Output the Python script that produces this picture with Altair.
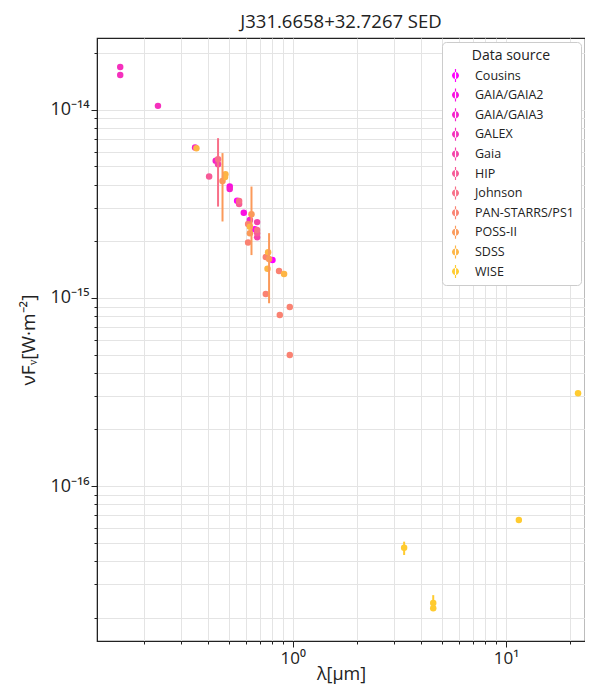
import altair as alt
import pandas as pd

# ---- data ----
sources = ["Cousins", "GAIA/GAIA2", "GAIA/GAIA3", "GALEX", "Gaia", "HIP",
           "Johnson", "PAN-STARRS/PS1", "POSS-II", "SDSS", "WISE"]
colors = ["#ff00ff", "#f90ee2", "#f61fcd", "#f530bd", "#f542aa", "#f75a98",
          "#f86f88", "#fa8272", "#fb9a5a", "#fdb545", "#ffcb30"]

wavelength = [0.155, 0.155, 0.233, 0.348, 0.353, 0.435, 0.446, 0.446, 0.405, 0.468,
              0.483, 0.481, 0.506, 0.506, 0.548, 0.560, 0.560, 0.589, 0.640, 0.629,
              0.680, 0.617, 0.629, 0.663, 0.680, 0.680, 0.680, 0.629, 0.617, 0.774,
              0.766, 0.747, 0.803, 0.761, 0.862, 0.910, 0.747, 0.968, 0.869, 0.968,
              21.8, 11.5, 3.33, 4.56, 4.56]
flux = [1.69e-14, 1.53e-14, 1.05e-14, 6.30e-15, 6.25e-15, 5.37e-15, 5.47e-15, 5.14e-15, 4.42e-15, 4.19e-15,
        4.55e-15, 4.39e-15, 3.91e-15, 3.80e-15, 3.29e-15, 3.28e-15, 3.16e-15, 2.84e-15, 2.79e-15, 2.60e-15,
        2.53e-15, 2.47e-15, 2.39e-15, 2.32e-15, 2.30e-15, 2.21e-15, 2.10e-15, 2.21e-15, 1.97e-15, 1.61e-15,
        1.75e-15, 1.65e-15, 1.59e-15, 1.43e-15, 1.39e-15, 1.34e-15, 1.05e-15, 8.96e-16, 8.12e-16, 4.97e-16,
        3.11e-16, 6.59e-17, 4.70e-17, 2.39e-17, 2.24e-17]
source = ["GALEX", "GALEX", "GALEX", "GAIA/GAIA3", "SDSS", "GAIA/GAIA3", "Johnson", "Gaia", "HIP", "POSS-II",
          "SDSS", "SDSS", "GAIA/GAIA2", "GAIA/GAIA3", "Cousins", "Johnson", "HIP", "GAIA/GAIA2", "POSS-II", "GAIA/GAIA3",
          "Gaia", "PAN-STARRS/PS1", "SDSS", "Cousins", "Johnson", "HIP", "Gaia", "POSS-II", "PAN-STARRS/PS1", "POSS-II",
          "SDSS", "PAN-STARRS/PS1", "Cousins", "SDSS", "PAN-STARRS/PS1", "SDSS", "PAN-STARRS/PS1", "PAN-STARRS/PS1",
          "PAN-STARRS/PS1", "PAN-STARRS/PS1",
          "WISE", "WISE", "WISE", "WISE", "WISE"]
flux_lo = [None, None, None, None, None, None, 3.06e-15, None, None, 2.55e-15,
           None, None, None, None, None, None, None, None, 1.69e-15, None,
           None, None, None, None, None, None, None, None, None, 9.37e-16,
           None, None, None, None, None, None, None, None, None, None,
           None, None, 4.30e-17, 2.19e-17, None]
flux_hi = [None, None, None, None, None, None, 7.07e-15, None, None, 5.89e-15,
           None, None, None, None, None, None, None, None, 3.91e-15, None,
           None, None, None, None, None, None, None, None, None, 2.21e-15,
           None, None, None, None, None, None, None, None, None, None,
           None, None, 5.06e-17, 2.63e-17, None]

x_ticks = [0.2, 0.3, 0.4, 0.5, 0.6, 0.7, 0.8, 0.9, 1, 2, 3, 4, 5, 6, 7, 8, 9, 10, 20]
y_ticks = [k * 10.0 ** e for e in (-17, -16, -15, -14) for k in range(1, 10)]
y_ticks = [v for v in y_ticks if 1.5e-17 <= v <= 2.4e-14]

df = pd.DataFrame({"wl": wavelength, "flux": flux, "source": source,
                   "lo": flux_lo, "hi": flux_hi})
df["order"] = df["source"].map({s: i for i, s in enumerate(sources)})
df = df.sort_values("order", kind="stable")
err = df.dropna(subset=["lo", "hi"])

FONT = "Open Sans"
E = "round(log(datum.value)/LN10)"
MAJ = f"abs(log(datum.value)/LN10 - {E}) < 0.001"

xscale = alt.Scale(type="log", domain=[0.1206, 23.5], nice=False)
yscale = alt.Scale(type="log", domain=[1.50e-17, 2.41e-14], nice=False)
color = alt.Color("source:N", scale=alt.Scale(domain=sources, range=colors),
                  legend=alt.Legend(title="Data source"))

xaxis = alt.Axis(values=x_ticks, grid=True, title="λ[μm]",
                 labelExpr=f"{MAJ} ? ({E} == 0 ? '10⁰' : '10¹') : ''",
                 tickSize={"condition": {"test": MAJ, "value": 6}, "value": 3},
                 labelFontSize=17, titleFontSize=18, titleFontWeight="normal",
                 titleY=33, titleBaseline="middle", labelPadding=3,
                 labelFlush=False, labelOverlap=False)
yaxis = alt.Axis(values=y_ticks, grid=True, title="νFᵥ[W·m⁻²]",
                 labelExpr=f"{MAJ} ? ({E} == -14 ? '10⁻¹⁴' : {E} == -15 ? '10⁻¹⁵' : {E} == -16 ? '10⁻¹⁶' : '') : ''",
                 tickSize={"condition": {"test": MAJ, "value": 6}, "value": 3},
                 labelFontSize=18, titleFontSize=19, titleFontWeight="normal",
                 titleX=-69, titleBaseline="middle", labelPadding=2,
                 labelFlush=False, labelOverlap=False)

bars = alt.Chart(err).mark_rule(strokeWidth=2).encode(
    x=alt.X("wl:Q", scale=xscale, axis=xaxis),
    y=alt.Y("lo:Q", scale=yscale, axis=yaxis),
    y2="hi:Q",
    color=alt.Color("source:N", scale=alt.Scale(domain=sources, range=colors), legend=None),
)

pts = alt.Chart(df).mark_point(filled=True, opacity=1, size=42, shape="circle").encode(
    x=alt.X("wl:Q", scale=xscale, axis=xaxis),
    y=alt.Y("flux:Q", scale=yscale, axis=yaxis),
    color=color,
    order=alt.Order("order:Q"),
)

ebar_symbol = ("M-0.54,0A0.54,0.54 0 1,0 0.54,0A0.54,0.54 0 1,0 -0.54,0Z "
               "M-0.09,-1L0.09,-1L0.09,1L-0.09,1Z")

chart = alt.layer(pts, bars).properties(
    width=488, height=603,
    title=alt.TitleParams("J331.6658+32.7267 SED", fontSize=18.5, fontWeight="normal",
                          font=FONT, color="#222", offset=7),
    autosize=alt.AutoSizeParams(type="none"),
    padding={"left": 89, "top": 30, "right": 0, "bottom": 45},
).configure(font=FONT).configure_view(
    stroke="#222", strokeWidth=1.2
).configure_axis(
    gridColor="#e4e4e4", gridWidth=1, domainColor="#222", tickColor="#222",
    labelColor="#222", titleColor="#222", labelFont=FONT, titleFont=FONT
).configure_legend(
    orient="top-right", offset=4, fillColor="white", strokeColor="#cccccc",
    cornerRadius=4, padding=7, titleFontSize=14, titleFontWeight="normal",
    titleAnchor="middle", titleColor="#222", labelFontSize=12.5, labelColor="#222",
    symbolType=ebar_symbol, symbolSize=169, symbolStrokeWidth=0, rowPadding=6.6,
    labelOffset=13, titlePadding=6, labelFont=FONT, titleFont=FONT
)

chart.save("out.html", embed_options={"renderer": "svg", "actions": False})
